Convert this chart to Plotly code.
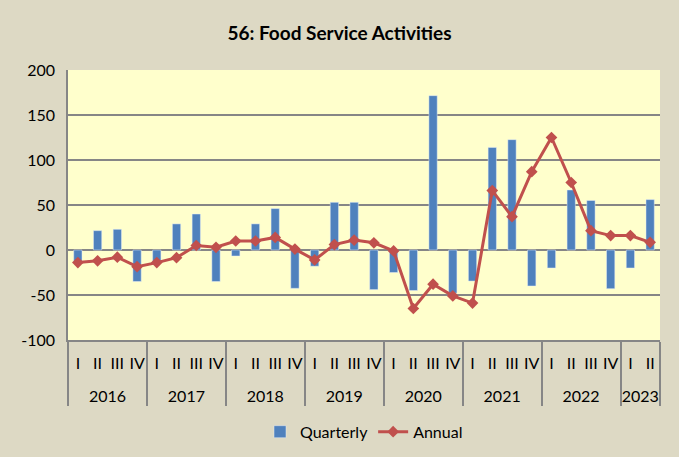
import plotly.graph_objects as go

years = ["2016"] * 4 + ["2017"] * 4 + ["2018"] * 4 + ["2019"] * 4 + ["2020"] * 4 + \
        ["2021"] * 4 + ["2022"] * 4 + ["2023"] * 2
quarters = ["I", "II", "III", "IV"] * 7 + ["I", "II"]

quarterly = [-13, 21.5, 23, -35, -13, 29, 40, -35, -6.7, 29, 46, -42.6,
             -18, 53, 53, -44, -25, -45, 171.5, -48, -34.5, 114, 122.6, -40,
             -20, 66.7, 55, -43, -20, 56]
annual = [-14, -12, -8, -18.5, -14, -8.5, 5, 3, 10, 10, 14, 1,
          -11, 6, 11, 8, -1, -65, -38, -51, -59, 66, 37, 87,
          125, 75, 21.5, 16, 16, 8.5]

y_ticks = [-100, -50, 0, 50, 100, 150, 200]
y_labels = ["-100", "-50", "0", "50", "100", "150", "200"]

# small spacer line under the quarter labels pushes the year row down a bit
q_text = [q + "<br><span style='font-size:8px'> </span>" for q in quarters]
x = [years, q_text]

fig = go.Figure()
fig.add_trace(go.Bar(x=x, y=quarterly, name="Quarterly", marker_color="#4f81bd"))
fig.add_trace(go.Scatter(x=x, y=annual, name="Annual", mode="lines+markers",
                         line=dict(color="#c0504d", width=3),
                         marker=dict(symbol="diamond", size=9, color="#c0504d")))

fig.update_layout(
    width=679, height=457,
    paper_bgcolor="#ddd9c4",
    plot_bgcolor="#ffffcc",
    font=dict(family="Lato", size=16, color="#000000"),
    title=dict(text="<b>56: Food Service Activities</b>", x=0.5, xanchor="center",
               y=0.926, yanchor="middle", font=dict(size=19)),
    margin=dict(l=68, r=19, t=70, b=117, autoexpand=False),
    bargap=0.58,
    showlegend=True,
    legend=dict(orientation="h", x=0.5, xanchor="center", y=-0.34, yanchor="middle",
                font=dict(size=16), bgcolor="rgba(0,0,0,0)"),
)
fig.update_yaxes(range=[-100, 200], tickvals=y_ticks, ticktext=y_labels,
                 showgrid=True, gridcolor="#868686", automargin=False,
                 gridwidth=1.5, zeroline=False, showline=True, linecolor="#868686",
                 linewidth=1.5, ticks="", ticklabelstandoff=8, tickfont=dict(size=16))
fig.update_xaxes(type="multicategory", range=[-0.5, 29.5], showgrid=False, showline=True,
                 linecolor="#868686", linewidth=1.5, showdividers=True,
                 dividercolor="#868686", dividerwidth=1.5, tickangle=0, automargin=False,
                 ticklabelstandoff=8, tickfont=dict(size=16))

fig.write_html("out.html", config={"displayModeBar": False},
               post_script="document.body.style.margin='0';")
